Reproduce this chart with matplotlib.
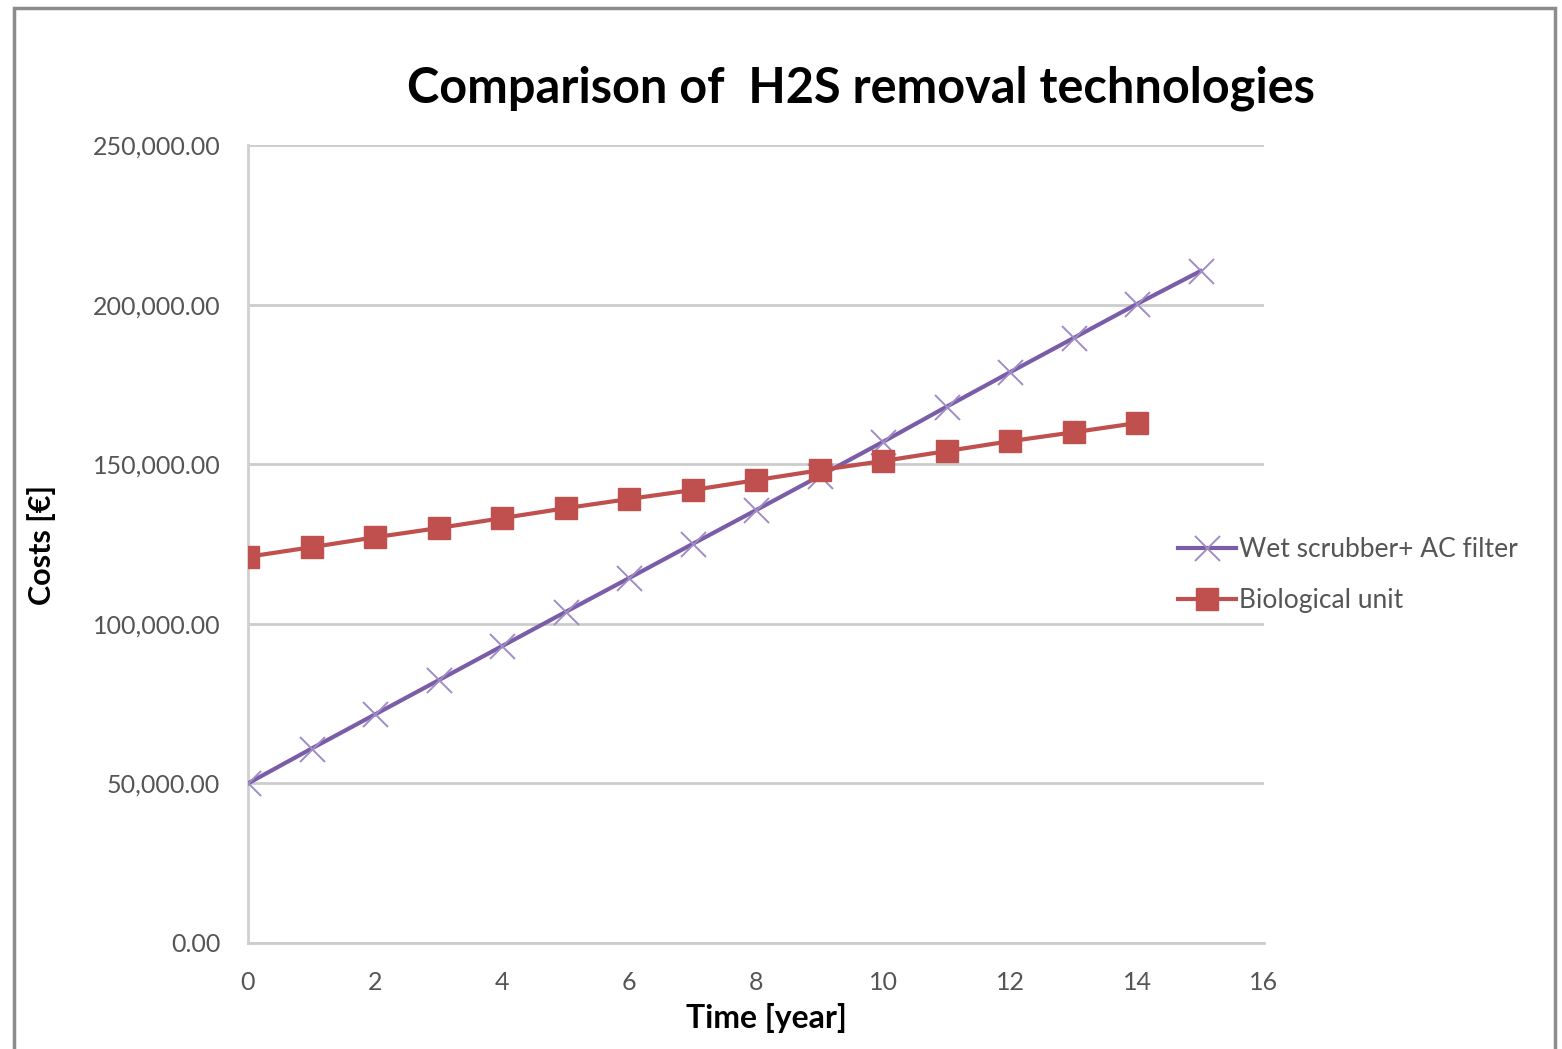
import matplotlib
matplotlib.use("Agg")
import matplotlib.pyplot as plt
from matplotlib.patches import Rectangle

years = list(range(16))
wet_scrubber = [50000, 60900, 71600, 82300, 93000, 103700, 114300, 125000,
                135600, 146300, 157000, 168000, 178800, 189500, 200200, 210500]
bio_years = list(range(15))
biological = [121000, 124000, 127100, 130000, 133100, 136200, 139100, 141900,
              145000, 148100, 151000, 154100, 157200, 160000, 162900]
xticks = [0, 2, 4, 6, 8, 10, 12, 14, 16]
yticks = [0, 50000, 100000, 150000, 200000, 250000]

plt.rcParams['font.family'] = ['Lato', 'DejaVu Sans']

fig = plt.figure(figsize=(15.62, 10.49), dpi=100)
ax = fig.add_axes([248/1562, 1-943/1049, (1264-248)/1562, (943-145)/1049])

purple = '#7B5CA8'
red = '#C0504D'

ax.plot(years, wet_scrubber, color=purple, lw=3, marker='x', markersize=18,
        mew=1.4, mec='#A08CC4', label='Wet scrubber+ AC filter', zorder=3)
ax.plot(bio_years, biological, color=red, lw=3, marker='s', markersize=16.5,
        mec=red, mfc=red, label='Biological unit', zorder=4)

ax.set_xlim(0, 16)
ax.set_ylim(0, 250000)
ax.set_xticks(xticks)
ax.set_yticks(yticks)
ax.set_yticklabels([f"{v:,.2f}" for v in yticks])
ax.tick_params(length=0, labelsize=18, labelcolor='#555555')
ax.tick_params(axis='y', pad=20)
ax.tick_params(axis='x', pad=20)
ax.grid(axis='y', color='#cccccc', lw=2)
ax.set_axisbelow(True)
for s in ['top', 'right']:
    ax.spines[s].set_visible(False)
ax.spines['left'].set_color('#d0d0d0')
ax.spines['left'].set_linewidth(2)
ax.spines['bottom'].set_color('#cccccc')
ax.spines['bottom'].set_linewidth(2)

fig.text(861/1562, 1-88/1049, 'Comparison of  H2S removal technologies',
         ha='center', va='center', fontsize=35, fontweight='bold')
fig.text(42/1562, 1-545/1049, 'Costs [€]', rotation=90, ha='center',
         va='center', fontsize=22, fontweight='bold')
fig.text(766/1562, 1-1018/1049, 'Time [year]', ha='center', va='center',
         fontsize=23, fontweight='bold')

leg = ax.legend(loc='center left', bbox_to_anchor=(1178/1562, 1-575/1049),
                bbox_transform=fig.transFigure, frameon=False, fontsize=19,
                handlelength=2.2, handletextpad=0.1, labelspacing=1.0,
                borderaxespad=0, borderpad=0)
for t in leg.get_texts():
    t.set_color('#555555')

fig.patches.append(Rectangle((14/1562, -0.01), (1555-14)/1562, 1-8/1049+0.01,
                             transform=fig.transFigure, fill=False,
                             edgecolor='#8c8c8c', lw=2.5))

fig.savefig('out.png', dpi=100, facecolor='white')
